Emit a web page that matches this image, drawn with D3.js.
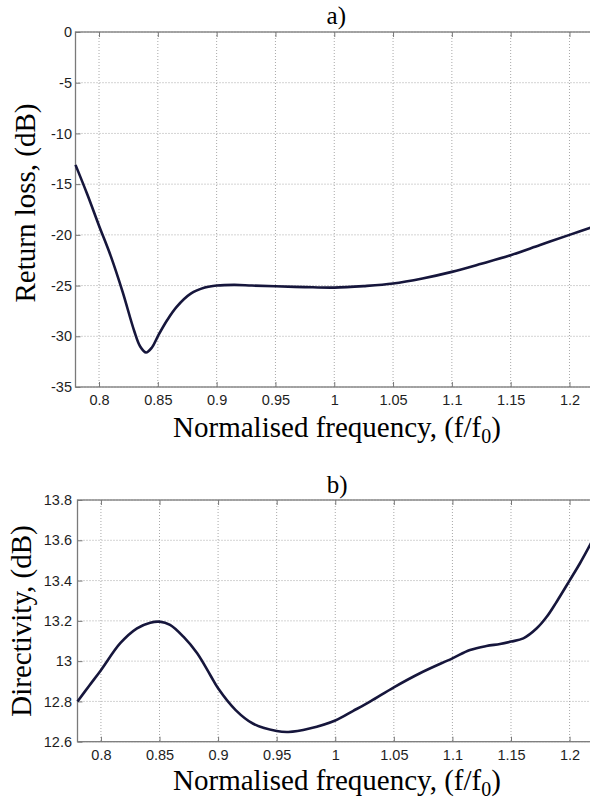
<!DOCTYPE html>
<html>
<head>
<meta charset="utf-8">
<script src="https://cdn.jsdelivr.net/npm/d3@7"></script>
<style>
  html, body { margin: 0; padding: 0; background: #fff; }
  svg { display: block; }
</style>
</head>
<body>
<svg id="chart" width="590" height="800"></svg>
<script>
// ---- data ----
const xTicks = [0.8, 0.85, 0.9, 0.95, 1.0, 1.05, 1.1, 1.15, 1.2];
const xTickLabels = ["0.8", "0.85", "0.9", "0.95", "1", "1.05", "1.1", "1.15", "1.2"];

const rlTicks = [0, -5, -10, -15, -20, -25, -30, -35];
const rlTickLabels = ["0", "-5", "-10", "-15", "-20", "-25", "-30", "-35"];

const dirTicks = [12.6, 12.8, 13.0, 13.2, 13.4, 13.6, 13.8];
const dirTickLabels = ["12.6", "12.8", "13", "13.2", "13.4", "13.6", "13.8"];

const rlFreq = [0.78, 0.79, 0.80, 0.81, 0.82, 0.83, 0.835, 0.840, 0.845, 0.85, 0.858, 0.866, 0.878, 0.89, 0.90, 0.915, 0.93, 0.95, 0.975, 1.0, 1.025, 1.05, 1.075, 1.1, 1.125, 1.15, 1.175, 1.2, 1.22];
const rlValues = [-13.1, -16.0, -19.1, -22.1, -25.6, -29.5, -31.0, -31.6, -31.1, -30.0, -28.4, -27.1, -25.8, -25.2, -25.0, -24.93, -25.0, -25.07, -25.15, -25.2, -25.05, -24.8, -24.3, -23.65, -22.85, -22.0, -21.0, -20.0, -19.2];

const dirFreq = [0.78, 0.79, 0.80, 0.8165, 0.8308, 0.8421, 0.85, 0.859, 0.8706, 0.882, 0.8934, 0.90, 0.915, 0.93, 0.95, 0.96, 0.978, 1.0, 1.015, 1.03, 1.05, 1.0723, 1.1, 1.115, 1.129, 1.1406, 1.15, 1.1605, 1.172, 1.1805, 1.189, 1.2, 1.2089, 1.2175, 1.22];
const dirValues = [12.80, 12.878, 12.955, 13.089, 13.163, 13.191, 13.196, 13.18, 13.12, 13.04, 12.93, 12.865, 12.757, 12.689, 12.653, 12.648, 12.665, 12.705, 12.752, 12.80, 12.870, 12.94, 13.014, 13.055, 13.075, 13.085, 13.097, 13.113, 13.163, 13.22, 13.295, 13.40, 13.486, 13.577, 13.605];

const xDomain = [0.78, 1.22];

const svg = d3.select("#chart");

function panel(cfg) {
  const x = d3.scaleLinear().domain(xDomain).range([cfg.left, cfg.right]);
  const y = d3.scaleLinear().domain(cfg.yDomain).range([cfg.bottom, cfg.top]);
  const g = svg.append("g");

  // grid
  g.append("g").selectAll("line").data(xTicks).join("line")
    .attr("x1", d => x(d)).attr("x2", d => x(d))
    .attr("y1", cfg.top).attr("y2", cfg.bottom)
    .attr("stroke", "#a8a8a8").attr("stroke-width", 1)
    .attr("stroke-dasharray", "1,2");
  g.append("g").selectAll("line").data(cfg.yTicks).join("line")
    .attr("x1", cfg.left).attr("x2", cfg.right)
    .attr("y1", d => y(d)).attr("y2", d => y(d))
    .attr("stroke", "#a8a8a8").attr("stroke-width", 1)
    .attr("stroke-dasharray", "1,2");

  // axes
  const xAxis = d3.axisBottom(x).tickValues(xTicks)
    .tickFormat((d, i) => xTickLabels[i]).tickSize(-5).tickSizeOuter(0).tickPadding(8);
  const gx = g.append("g").attr("transform", `translate(0,${cfg.bottom})`).call(xAxis);
  const xAxisTop = d3.axisTop(x).tickValues(xTicks).tickFormat("").tickSize(-5).tickSizeOuter(0);
  const gxt = g.append("g").attr("transform", `translate(0,${cfg.top})`).call(xAxisTop);

  const yAxis = d3.axisLeft(y).tickValues(cfg.yTicks)
    .tickFormat((d, i) => cfg.yTickLabels[i]).tickSize(-5).tickSizeOuter(0).tickPadding(cfg.left - 72);
  const gy = g.append("g").attr("transform", `translate(${cfg.left},0)`).call(yAxis);

  [gx, gxt, gy].forEach(a => {
    a.select(".domain").remove();
    a.selectAll(".tick line").attr("stroke", "#777");
    a.selectAll(".tick text")
      .attr("font-family", "Liberation Sans, Arial, sans-serif")
      .attr("font-size", 14.5).attr("fill", "#1e1e1e");
  });

  // box
  g.append("rect")
    .attr("x", cfg.left).attr("y", cfg.top)
    .attr("width", cfg.right - cfg.left).attr("height", cfg.bottom - cfg.top)
    .attr("fill", "none").attr("stroke", "#7a7a7a").attr("stroke-width", 1.3);

  // curve
  const line = d3.line().x(d => x(d[0])).y(d => y(d[1])).curve(d3.curveCatmullRom.alpha(0.5));
  g.append("path")
    .datum(cfg.xs.map((v, i) => [v, cfg.ys[i]]))
    .attr("d", line)
    .attr("fill", "none").attr("stroke", "#16163c").attr("stroke-width", 2.6)
    .attr("stroke-linejoin", "round");

  // title
  g.append("text").attr("x", (cfg.left + cfg.right) / 2 + 2).attr("y", cfg.titleY)
    .attr("text-anchor", "middle")
    .attr("font-family", "Liberation Serif, Times New Roman, serif")
    .attr("font-size", 25).attr("fill", "#000").text(cfg.title);

  // x label
  const xl = g.append("text").attr("x", 337).attr("y", cfg.xLabelY)
    .attr("text-anchor", "middle")
    .attr("font-family", "Liberation Serif, Times New Roman, serif")
    .attr("font-size", 29).attr("fill", "#000");
  xl.append("tspan").text("Normalised frequency, (f/f");
  xl.append("tspan").attr("font-size", 20).attr("dy", 6).text("0");
  xl.append("tspan").attr("dy", -6).text(")");

  // y label
  g.append("text")
    .attr("transform", `translate(${cfg.yLabelX},${cfg.yLabelY}) rotate(-90)`)
    .attr("text-anchor", "middle")
    .attr("font-family", "Liberation Serif, Times New Roman, serif")
    .attr("font-size", 29).attr("fill", "#000").text(cfg.yLabel);
}

panel({
  left: 75.5, right: 593, top: 32, bottom: 387,
  yDomain: [-35, 0], yTicks: rlTicks, yTickLabels: rlTickLabels,
  xs: rlFreq, ys: rlValues,
  title: "a)", titleY: 24, xLabelY: 437,
  yLabel: "Return loss, (dB)", yLabelX: 35, yLabelY: 203
});

panel({
  left: 77.5, right: 593, top: 500, bottom: 741.7,
  yDomain: [12.6, 13.8], yTicks: dirTicks, yTickLabels: dirTickLabels,
  xs: dirFreq, ys: dirValues,
  title: "b)", titleY: 493, xLabelY: 790,
  yLabel: "Directivity, (dB)", yLabelX: 31, yLabelY: 621
});
</script>
</body>
</html>
